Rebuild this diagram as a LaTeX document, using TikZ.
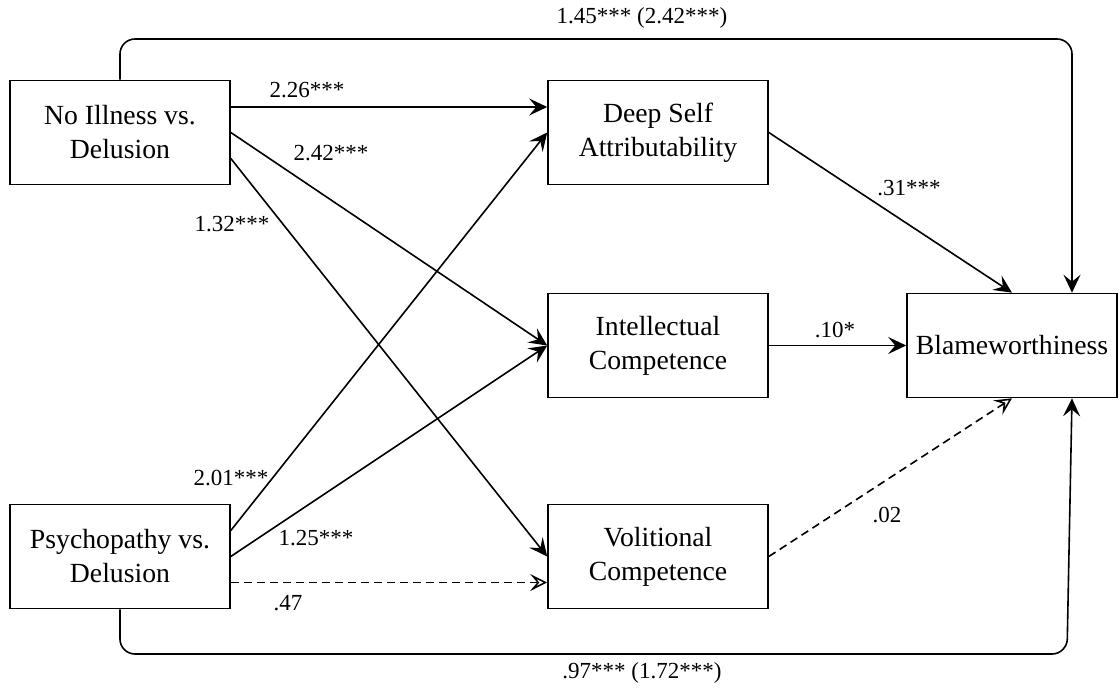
\documentclass[tikz,border=0pt]{standalone}
\usepackage{fontspec}
\setmainfont{Liberation Serif}
\usetikzlibrary{arrows.meta}

\begin{document}
\begin{tikzpicture}[x=0.5pt,y=-0.5pt,
  box/.style={draw,line width=0.8pt,minimum width=110pt,minimum height=52pt,align=center,inner sep=0pt,font=\fontsize{13.85}{17}\selectfont},
  coef/.style={inner sep=0pt,font=\fontsize{11.5}{13.8}\selectfont},
  effect/.style={line width=0.8pt,-{Stealth[length=9pt,width=8.5pt,inset=3.5pt]}},
  nseffect/.style={line width=0.8pt,dash pattern=on 4pt off 2.5pt,-{Stealth[open,length=8.5pt,width=8.5pt,inset=3.5pt]}}]
\useasboundingbox (0,0) rectangle (1119,690);
%
% predictors
\node[box] (noill) at (120,132.5) {No Illness vs.\\Delusion};
\node[box] (psy) at (120,556.5) {Psychopathy vs.\\Delusion};
% mediators
\node[box] (deep) at (658,132.5) {Deep Self\\Attributability};
\node[box] (intel) at (658,345.5) {Intellectual\\Competence};
\node[box] (vol) at (658,556.5) {Volitional\\Competence};
% outcome
\node[box,minimum width=105pt] (blame) at (1012,345.5) {Blameworthiness};

% a paths, no illness
\draw[effect] ([yshift=12.75pt]noill.east) -- ([yshift=12.75pt]deep.west);
\draw[effect] (noill.east) -- (intel.west);
\draw[effect] ([yshift=-13pt]noill.east) -- (vol.west);
\node[coef] (a11) at (307,90) {2.26***};
\node[coef] (a12) at (331,153) {2.42***};
\node[coef] (a13) at (232,224) {1.32***};

% a paths, psychopathy
\draw[effect] ([yshift=13pt]psy.east) -- (deep.west);
\draw[effect] (psy.east) -- (intel.west);
\draw[nseffect] ([yshift=-13pt]psy.east) -- ([yshift=-13pt]vol.west);
\node[coef] (a21) at (231,478) {2.01***};
\node[coef] (a22) at (316,538) {1.25***};
\node[coef] (a23) at (288,603) {.47};

% b paths
\draw[effect] (deep.east) -- (blame.north);
\draw[effect] (intel.east) -- (blame.west);
\draw[nseffect] (vol.east) -- (blame.south);
\node[coef] (b1) at (909,188) {.31***};
\node[coef] (b2) at (835,330) {.10*};
\node[coef] (b3) at (887,515) {.02};

% c paths (total in brackets)
\draw[effect,rounded corners=7.5pt] (noill.north) |- (1072,39) -- ([xshift=30pt]blame.north);
\draw[effect,rounded corners=7.5pt] (psy.south) |- (1067,654) -- ([xshift=30pt]blame.south);
\node[coef] (c1) at (642,18) {1.45*** (2.42***)};
\node[coef] (c2) at (642,673) {.97*** (1.72***)};
\end{tikzpicture}
\end{document}
